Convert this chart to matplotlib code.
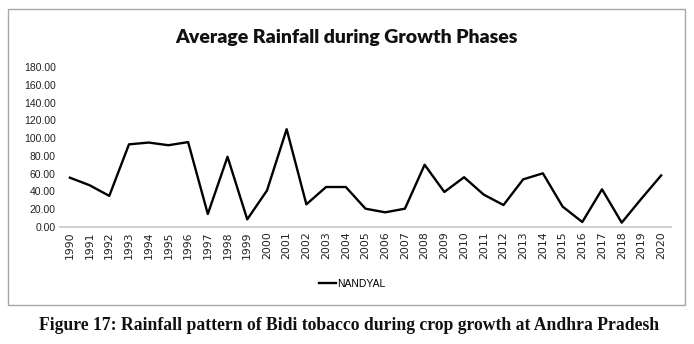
import matplotlib
matplotlib.use("Agg")
import matplotlib.pyplot as plt
from matplotlib.patches import Rectangle

years = [str(y) for y in range(1990, 2021)]
nandyal = [55.5, 47.0, 35.0, 93.0, 95.0, 92.0, 95.5, 14.6, 79.0, 8.6,
           41.0, 110.0, 25.5, 45.0, 45.0, 20.6, 16.5, 20.6, 70.0, 39.4,
           56.0, 36.4, 24.7, 53.6, 60.4, 23.0, 5.6, 42.4, 4.9, 31.9, 58.0]
yticks = [0, 20, 40, 60, 80, 100, 120, 140, 160, 180]

sans = ["Liberation Sans", "DejaVu Sans"]

W, H = 694, 344
fig = plt.figure(figsize=(W / 100, H / 100), dpi=100)
fig.patch.set_facecolor("white")

# chart border (Excel chart area)
fig.add_artist(Rectangle((8 / W, 1 - 305 / H), 677 / W, 296 / H,
                         transform=fig.transFigure, fill=False,
                         edgecolor="#a6a6a6", linewidth=1.0))

ax = fig.add_axes([60 / W, 1 - 227 / H, 611 / W, 160 / H])
x = list(range(len(years)))
line, = ax.plot(x, nandyal, color="black", linewidth=1.7, label="NANDYAL")

ax.set_xlim(-0.5, len(years) - 0.5)
ax.set_ylim(0, 180)
ax.set_yticks(yticks)
ax.set_yticklabels([f"{v:.2f}" for v in yticks], fontfamily=sans,
                   fontsize=7.5, color="#222222")
ax.set_xticks(x)
ax.set_xticklabels(years, rotation=90, fontfamily="DejaVu Sans",
                   fontsize=7.8, color="#222222")
ax.tick_params(axis="both", length=0, pad=3)
for s in ["top", "right", "left"]:
    ax.spines[s].set_visible(False)
ax.spines["bottom"].set_color("#c8c8c8")
ax.spines["bottom"].set_linewidth(1.2)

fig.text(346 / W, 1 - 38 / H, "Average Rainfall during Growth Phases",
         ha="center", va="center", fontsize=14, fontweight="heavy",
         fontfamily=["Lato", "DejaVu Sans"], color="#111111")

fig.legend(handles=[line], loc="center", bbox_to_anchor=(352 / W, 1 - 284 / H),
           frameon=False, handlelength=1.6, handletextpad=0.1,
           prop={"family": sans, "size": 7.5})

fig.text(349 / W, 1 - 325 / H,
         "Figure 17: Rainfall pattern of Bidi tobacco during crop growth at Andhra Pradesh",
         ha="center", va="center", fontsize=12.7, fontweight="bold",
         fontfamily=["Liberation Serif", "DejaVu Serif"], color="#111111")

fig.savefig("out.png", dpi=100)
